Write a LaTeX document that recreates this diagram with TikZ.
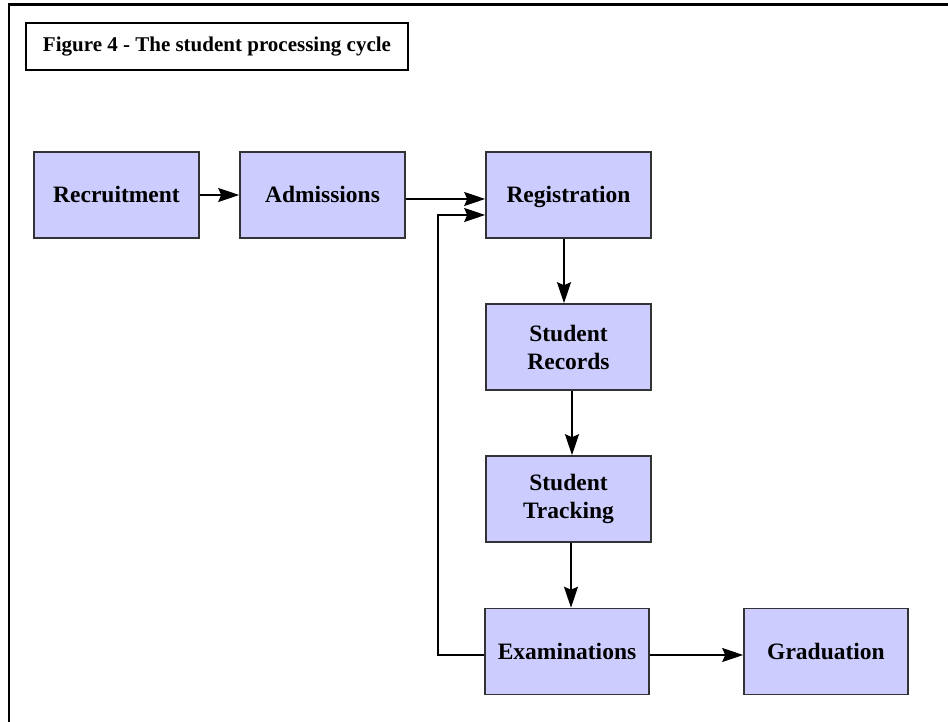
\documentclass[tikz,border=0pt]{standalone}
\usepackage{fontspec}
\setmainfont{Liberation Serif}
\usetikzlibrary{arrows.meta}
\definecolor{boxfill}{HTML}{CCCCFF}
\definecolor{boxline}{HTML}{333333}
\tikzset{
  stage/.style={draw=boxline, line width=1.6pt, fill=boxfill,
    minimum width=165pt, minimum height=86pt, inner sep=0pt,
    align=center, font=\bfseries\fontsize{23.5}{28}\selectfont},
  oneline/.style={text height=19pt, text depth=3pt},
  flow/.style={line width=1.3pt, -{Stealth[length=21pt,width=14pt,inset=3pt]}},
  frameline/.style={line width=2.6pt},
}
\begin{document}
\begin{tikzpicture}[x=1pt,y=-1pt]
  \useasboundingbox (0,0) rectangle (948,722);
  % outer frame (top and left edges)
  \draw[frameline] (948,4.5) -- (9,4.5) -- (9,722);
  % caption box
  \node[draw, line width=1.4pt, minimum width=382pt, minimum height=47pt, inner sep=0pt,
        font=\bfseries\fontsize{21}{25}\selectfont] (title) at (217,46.5)
        {Figure 4 - The student processing cycle};
  % stages
  \node[stage, oneline] (rec)  at (116.5,195)  {Recruitment};
  \node[stage, oneline] (adm)  at (322.5,195)  {Admissions};
  \node[stage, oneline] (reg)  at (568.5,195)  {Registration};
  \node[stage] (srec) at (568.5,347)  {Student\\Records};
  \node[stage] (strk) at (568.5,499)  {Student\\Tracking};
  \node[stage, oneline, minimum width=164pt] (exam) at (567,651.5) {Examinations};
  \node[stage, oneline, minimum width=164pt] (grad) at (826,651.5) {Graduation};
  % loop-back corner
  \coordinate (loopb) at (438,655);
  \coordinate (loopt) at (438,215);
  % connectors
  \draw[flow] (rec.east) -- (adm.west);
  \draw[flow] ([yshift=-4pt]adm.east) -- ([yshift=-4pt]reg.west);
  \draw[flow] ([xshift=-4.5pt]reg.south) -- ([xshift=-4.5pt]srec.north);
  \draw[flow] ([xshift=3.5pt]srec.south) -- ([xshift=3.5pt]strk.north);
  \draw[flow] ([xshift=2.5pt]strk.south) -- ([xshift=4pt]exam.north);
  \draw[flow] ([yshift=-3.5pt]exam.east) -- ([yshift=-3.5pt]grad.west);
  \draw[flow] ([yshift=-3.5pt]exam.west) -- (loopb) -- (loopt) -- ([yshift=-20pt]reg.west);
\end{tikzpicture}
\end{document}
